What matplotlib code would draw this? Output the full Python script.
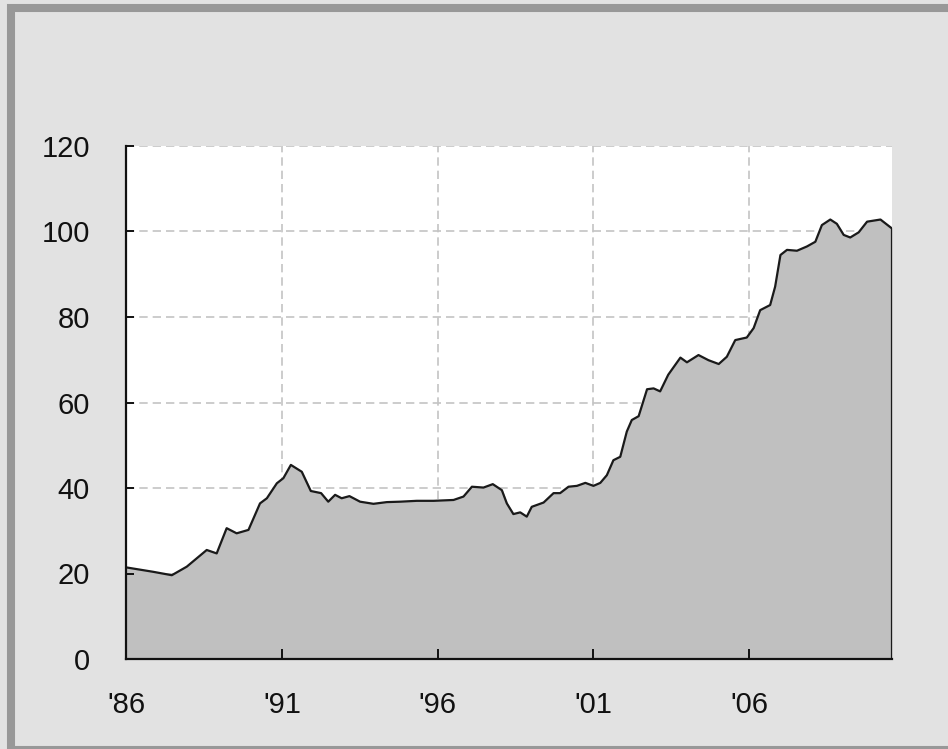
import numpy as np
import matplotlib
matplotlib.use("Agg")
import matplotlib.pyplot as plt
from matplotlib.patches import Rectangle

# DONNEES
annees = [1986.03, 1986.87, 1987.47, 1987.95, 1988.59, 1988.91, 1989.23, 1989.55,
          1989.93, 1990.30, 1990.52, 1990.84, 1991.05, 1991.29, 1991.64, 1991.93,
          1992.26, 1992.49, 1992.71, 1992.92, 1993.17, 1993.51, 1993.94, 1994.37,
          1994.80, 1995.33, 1995.87, 1996.51, 1996.83, 1997.10, 1997.47, 1997.77,
          1998.06, 1998.22, 1998.43, 1998.65, 1998.86, 1999.02, 1999.40, 1999.72,
          1999.93, 2000.20, 2000.47, 2000.74, 2001.00, 2001.22, 2001.43, 2001.64,
          2001.86, 2002.07, 2002.23, 2002.45, 2002.72, 2002.93, 2003.14, 2003.40,
          2003.79, 2004.00, 2004.37, 2004.69, 2005.02, 2005.28, 2005.55, 2005.92,
          2006.14, 2006.35, 2006.67, 2006.83, 2007.00, 2007.21, 2007.53, 2007.85,
          2008.12, 2008.33, 2008.60, 2008.81, 2009.03, 2009.24, 2009.51, 2009.78,
          2010.21, 2010.58]
valeurs = [21.4, 20.4, 19.6, 21.6, 25.5, 24.7, 30.6, 29.4,
           30.2, 36.4, 37.6, 41.1, 42.3, 45.4, 43.8, 39.3,
           38.8, 36.8, 38.4, 37.6, 38.1, 36.8, 36.3, 36.7,
           36.8, 37.0, 37.0, 37.2, 38.0, 40.3, 40.1, 40.9,
           39.5, 36.4, 33.9, 34.3, 33.3, 35.6, 36.6, 38.8,
           38.8, 40.3, 40.5, 41.2, 40.5, 41.2, 43.0, 46.5,
           47.3, 53.2, 55.9, 56.8, 63.1, 63.3, 62.6, 66.5,
           70.5, 69.4, 71.1, 69.9, 69.0, 70.7, 74.6, 75.2,
           77.4, 81.6, 82.8, 87.1, 94.5, 95.7, 95.5, 96.5,
           97.6, 101.5, 102.8, 101.8, 99.2, 98.6, 99.8, 102.3,
           102.8, 100.7]
ticks_x = [1986, 1991, 1996, 2001, 2006]
labels_x = ["'86", "'91", "'96", "'01", "'06"]
ticks_y = [0, 20, 40, 60, 80, 100, 120]

plt.rcParams['font.family'] = ['Liberation Sans', 'DejaVu Sans']

fig = plt.figure(figsize=(9.48, 7.49), dpi=100, facecolor='#e2e2e2')
ax = fig.add_axes([126/948, 1 - 659/749, 766/948, 513/749])
ax.set_facecolor('white')

# CADRE GRIS AUTOUR DE LA FIGURE
cadre = Rectangle((11/948, 1 - 750/749), (953 - 11)/948, (750 - 8)/749,
                  transform=fig.transFigure, fill=False, edgecolor='#989898',
                  linewidth=5.8, clip_on=False)
fig.patches.append(cadre)

# GRILLE POINTILLEE (sous l'aire, les graduations restent au-dessus)
for t in ticks_x[1:]:
    ax.axvline(t, color='#c4c4c4', linestyle=(0, (5, 3)), linewidth=1.2, zorder=1)
for t in ticks_y[1:]:
    ax.axhline(t, color='#c4c4c4', linestyle=(0, (5, 3)), linewidth=1.2, zorder=1)

# AIRE + COURBE
x = np.array(annees)
y = np.array(valeurs)
ax.fill_between(x, 0, y, color='#c0c0c0', zorder=2)
ax.plot(np.append(x, x[-1]), np.append(y, 0), color='#1a1a1a', lw=1.6, zorder=3)

ax.set_xlim(1986, x[-1])
ax.set_ylim(0, 120)
ax.set_xticks(ticks_x)
ax.set_xticklabels(labels_x)
ax.set_yticks(ticks_y)
ax.set_axisbelow(False)

for s in ['top', 'right']:
    ax.spines[s].set_visible(False)
for s in ['left', 'bottom']:
    ax.spines[s].set_linewidth(1.6)
    ax.spines[s].set_color('#111111')
    ax.spines[s].set_zorder(4)

ax.tick_params(axis='x', direction='in', length=7, width=1.4, pad=23,
               labelsize=21, colors='#111111')
ax.tick_params(axis='y', direction='in', length=6, width=1.4, pad=26,
               labelsize=21, colors='#111111')

fig.savefig("out.png", dpi=100, facecolor=fig.get_facecolor())
